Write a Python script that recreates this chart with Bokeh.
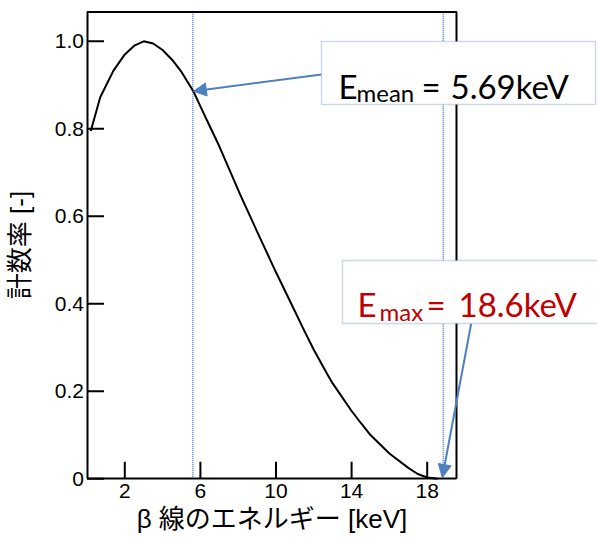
from bokeh.plotting import figure
from bokeh.models import (Range1d, FixedTicker, Label, BoxAnnotation,
                          Arrow, NormalHead)
from bokeh.embed import file_html
from bokeh.resources import INLINE

# ---- data ----
energy_keV = [0.2, 0.7, 1.4, 2.0, 2.5, 3.0, 3.5, 4.0, 4.5, 5.0, 5.65, 6.34,
              7.0, 7.5, 8.1, 9.0, 9.7, 10.0, 11.0, 11.5, 12.0, 12.7, 13.0,
              14.0, 14.5, 15.0, 16.0, 17.0, 17.5, 18.0, 18.55]
count_rate = [0.795, 0.872, 0.933, 0.97, 0.99, 1.0, 0.995, 0.98, 0.958, 0.93,
              0.884, 0.82, 0.76, 0.71, 0.65, 0.565, 0.50, 0.472, 0.383, 0.338,
              0.295, 0.24, 0.218, 0.155, 0.127, 0.10, 0.058, 0.025, 0.011,
              0.003, 0.0]
x_ticks = [2, 6, 10, 14, 18]
y_ticks = [0, 0.2, 0.4, 0.6, 0.8, 1.0]
y_tick_labels = ["0", "0.2", "0.4", "0.6", "0.8", "1.0"]
marker_x = [5.6, 18.85]          # dotted guide lines (as drawn)
mean_point = (5.63, 0.886)       # arrow tip on the curve
max_point = (18.8, 0.003)        # arrow tip at the end point
mean_text = ["E", "mean", "=", "5.69keV"]
max_text = ["E", "max", "=", "18.6keV"]
x_label = "β 線のエネルギー [keV]"
y_label = "計数率 [-]"
X_MAX = 19.55                    # right edge of the plotting box
Y_MAX = 1.067                    # top edge of the plotting box

BLUE = "#4f81bd"
RED = "#c00000"
DOT = "#4a86c8"
LABEL_FONT = "Liberation Sans, Noto Sans CJK JP"

W, H = 597, 542
PXX, PXY = 18.9, 437.5           # px per data unit
ORIGIN_X, ORIGIN_Y = 86.5, 478.3 # canvas position of (0, 0)
x0 = -ORIGIN_X / PXX
y0 = -(H - ORIGIN_Y) / PXY

p = figure(width=W, height=H, output_backend="svg", toolbar_location=None,
           x_range=Range1d(x0, x0 + W / PXX),
           y_range=Range1d(y0, y0 + H / PXY),
           min_border_left=0, min_border_top=0, min_border_right=0,
           min_border_bottom=0)
p.grid.visible = False
p.outline_line_color = None
p.background_fill_color = "white"
p.border_fill_color = "white"

for ax in (p.xaxis, p.yaxis):
    ax.fixed_location = 0
    ax.axis_line_color = "black"
    ax.axis_line_width = 2
    ax.major_tick_in = 0
    ax.major_tick_out = 0
    ax.major_tick_line_color = None
    ax.minor_tick_line_color = None
    ax.major_label_text_font = "Liberation Sans"
    ax.major_label_text_font_size = "21px"
    ax.major_label_text_color = "black"
    ax.axis_label_text_font = LABEL_FONT
    ax.axis_label_text_font_size = "26px"
    ax.axis_label_text_font_style = "normal"
    ax.axis_label_text_color = "black"

p.xaxis.bounds = (0, X_MAX)
p.yaxis.bounds = (0, Y_MAX)
p.xaxis.ticker = FixedTicker(ticks=x_ticks)
p.yaxis.ticker = FixedTicker(ticks=y_ticks)
p.yaxis.major_label_overrides = {t: l for t, l in zip(y_ticks, y_tick_labels)}
p.xaxis.major_label_standoff = 5
p.yaxis.major_label_standoff = 3
p.xaxis.axis_label = x_label
p.yaxis.axis_label = y_label
p.xaxis.axis_label_standoff = 3
p.yaxis.axis_label_standoff = 17

# dotted guide lines
p.segment(x0=marker_x, y0=[0] * len(marker_x), x1=marker_x,
          y1=[Y_MAX] * len(marker_x), line_color=DOT, line_dash="1 1",
          line_width=1.5)

# top and right edges of the plotting box, plus inward tick marks (17 px),
# drawn as one broken polyline
TICK = 17
nan = float("nan")
frame_x = [0, X_MAX, X_MAX]
frame_y = [Y_MAX, Y_MAX, 0]
for t in x_ticks:
    frame_x += [nan, t, t]
    frame_y += [nan, 0, TICK / PXY]
for t in y_ticks:
    frame_x += [nan, 0, TICK / PXX]
    frame_y += [nan, t, t]
p.line(x=frame_x, y=frame_y, line_color="black", line_width=2)

p.line(energy_keV, count_rate, line_color="black", line_width=2)

# reference-picture coordinates -> screen units (frame fills the canvas)
def sx(px):
    return px
def sy(py):
    return H - py

def callout(left, right, top, bottom, parts, color, xs, base, sub_base):
    p.add_layout(BoxAnnotation(left=sx(left), right=sx(right), top=sy(top),
                               bottom=sy(bottom), left_units="screen",
                               right_units="screen", top_units="screen",
                               bottom_units="screen", fill_color="white",
                               fill_alpha=1, line_color=BLUE, line_width=1.5,
                               level="annotation"))
    sizes = ["33px", "24px", "33px", "33px"]
    bases = [base, sub_base, base, base]
    for t, xx, fs, b in zip(parts, xs, sizes, bases):
        p.add_layout(Label(x=sx(xx), y=sy(b), x_units="screen",
                           y_units="screen", text=t, text_font="Lato",
                           text_font_size=fs, text_color=color,
                           text_baseline="alphabetic", text_align="left",
                           level="overlay"))

p.add_layout(Arrow(end=NormalHead(size=13, fill_color=BLUE, line_color=BLUE),
                   x_start=sx(321), y_start=sy(74), start_units="screen",
                   x_end=mean_point[0], y_end=mean_point[1], end_units="data",
                   line_color=BLUE, line_width=2))
p.add_layout(Arrow(end=NormalHead(size=13, fill_color=BLUE, line_color=BLUE),
                   x_start=sx(470.7), y_start=sy(323), start_units="screen",
                   x_end=max_point[0], y_end=max_point[1], end_units="data",
                   line_color=BLUE, line_width=2))

callout(321, 595, 41, 104, mean_text, "black", [338, 356, 421, 450], 85, 92)
callout(342, 640, 260, 323, max_text, RED, [357, 379, 426, 458], 303.5, 311)

open("out.html", "w").write(file_html(p, INLINE))
